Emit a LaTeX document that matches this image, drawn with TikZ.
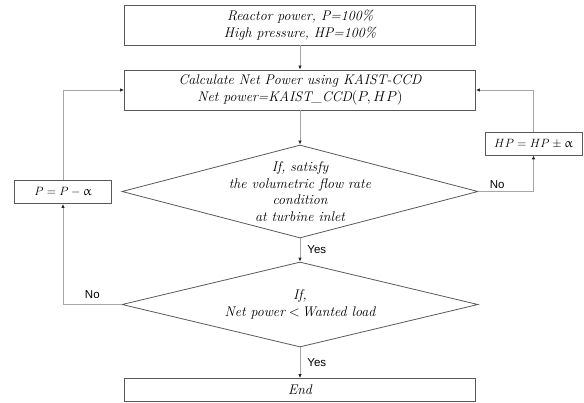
\documentclass[tikz,border=0pt]{standalone}
\usepackage{fontspec}
\usepackage{upgreek}
\newfontfamily\labelfont{Liberation Sans}
\usetikzlibrary{shapes.geometric,arrows.meta}

\begin{document}
\begin{tikzpicture}[x=1pt, y=-1pt,
  bx/.style={draw=black!65, line width=0.8pt, minimum width=351pt, minimum height=40pt, inner sep=0pt, align=center, font=\fontsize{14}{16.5}\selectfont\itshape},
  dm/.style={diamond, draw=black!65, line width=0.8pt, inner sep=0pt, minimum width=356pt},
  dt/.style={align=center, inner sep=0pt, font=\fontsize{14}{16.7}\selectfont\itshape},
  sm/.style={draw=black!65, line width=0.8pt, minimum width=97pt, minimum height=23pt, inner sep=0pt, font=\fontsize{13}{15}\selectfont},
  yn/.style={font=\labelfont\fontsize{11.5}{13}\selectfont, inner sep=1pt},
  arr/.style={draw=black!35, line width=0.8pt, -{Latex[length=4pt,width=3.5pt,color=black!85]}}
]
\useasboundingbox (0,0) rectangle (584,403);
% main column
\node[bx] (init) at (300,25) {Reactor power, P=100\%\\High pressure, HP=100\%};
\node[bx] (calc) at (300,90) {Calculate Net Power using KAIST-CCD\\Net power=KAIST\_CCD$(P,HP)$};
\node[dm, minimum height=93pt] (flow) at (300,191.5) {};
\node[dt] (flowtxt) at (flow) {If, satisfy\\the volumetric flow rate\\condition\\at turbine inlet};
\node[dm, minimum height=85pt] (load) at (300,304.5) {};
\node[dt] (loadtxt) at (load) {If,\\Net power\;$<$\,Wanted load};
\node[bx, minimum height=23pt] (stop) at (300,390) {End};
% side corrections
\node[sm] (dec) at (63,192) {$P = P - \upalpha$};
\node[sm] (inc) at (533.5,143.5) {$HP = HP \pm \upalpha$};

\draw[arr] (init) -- (calc);
\draw[arr] (calc) -- (flow);
\draw[arr] (flow) -- node[yn, right=6pt] {Yes} (load);
\draw[arr] (load) -- node[yn, right=6pt] {Yes} (stop);
\draw[arr] (flow.east) -| node[yn, pos=0.17, above=1pt] {No} (inc.south);
\draw[arr] (inc.north) |- (calc.east);
\draw[arr] (load.west) -| node[yn, pos=0.25, above=4pt] {No} (dec.south);
\draw[arr] (dec.north) |- (calc.west);
\end{tikzpicture}
\end{document}
